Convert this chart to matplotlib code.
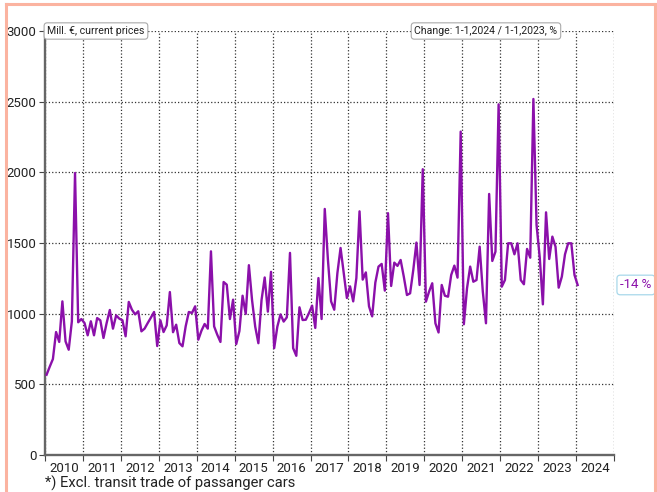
import matplotlib
matplotlib.use('Agg')
import matplotlib.pyplot as plt
import numpy as np
from matplotlib.lines import Line2D

plt.rcParams['font.family'] = ['Roboto', 'DejaVu Sans']

# monthly values, Mill. EUR, Jan 2010 .. Jan 2024
y2010 = [568, 625, 679, 870, 800, 1087, 804, 745, 946, 1995, 939, 962]
y2011 = [934, 847, 946, 847, 969, 953, 828, 934, 1026, 894, 988, 965]
y2012 = [953, 840, 1083, 1028, 995, 1017, 875, 894, 934, 972, 1012, 771]
y2013 = [953, 870, 917, 1153, 869, 922, 792, 769, 910, 1012, 1005, 1052]
y2014 = [816, 880, 927, 894, 1441, 910, 851, 800, 1224, 1205, 962, 1099]
y2015 = [785, 877, 1127, 998, 1343, 1096, 908, 791, 1096, 1256, 1014, 1296]
y2016 = [756, 908, 995, 944, 974, 1430, 756, 702, 1045, 955, 957, 1004]
y2017 = [1057, 899, 1252, 962, 1741, 1382, 1087, 1028, 1288, 1465, 1288, 1111]
y2018 = [1193, 1087, 1252, 1724, 1241, 1292, 1052, 981, 1220, 1333, 1352, 1163]
y2019 = [1711, 1196, 1361, 1338, 1380, 1262, 1132, 1144, 1309, 1503, 1203, 2022]
y2020 = [1085, 1156, 1215, 932, 867, 1203, 1127, 1120, 1274, 1340, 1255, 2288]
y2021 = [925, 1179, 1333, 1226, 1238, 1474, 1156, 932, 1847, 1373, 1439, 2481]
y2022 = [1191, 1238, 1498, 1498, 1420, 1498, 1238, 1208, 1458, 1396, 2519, 1627]
y2023 = [1400, 1066, 1717, 1387, 1545, 1474, 1184, 1262, 1420, 1498, 1498, 1274]
y2024 = [1203]

years = list(range(2010, 2025))
change_label = "-14 %"

vals = (y2010 + y2011 + y2012 + y2013 + y2014 + y2015 + y2016 + y2017
        + y2018 + y2019 + y2020 + y2021 + y2022 + y2023 + y2024)
x = 2010 + (np.arange(len(vals)) + 0.5) / 12

purple = '#8B10AA'

fig = plt.figure(figsize=(6.57, 4.92), dpi=100)
ax = fig.add_axes([45 / 657, 37 / 492, 569 / 657, 424 / 492])

ax.plot(x, vals, color=purple, lw=1.7, zorder=3)

ax.set_xlim(2010, 2025)
ax.set_ylim(0, 3000)
ax.set_xticks(range(2010, 2026))
ax.set_xticks([y + 0.5 for y in years], minor=True)
ax.set_xticklabels([str(y) for y in years], minor=True)
ax.tick_params(axis='x', which='major', length=4, color='#444', labelbottom=False)
ax.tick_params(axis='x', which='minor', length=0, labelsize=9.5, pad=5, labelcolor='#222')
ax.set_yticks(range(0, 3001, 500))
ax.tick_params(axis='y', length=4, color='#444', labelsize=9.5, pad=2, labelcolor='#222')

ax.grid(which='major', linestyle=':', color='#333', lw=0.9)
for s in ['top', 'right']:
    ax.spines[s].set_visible(False)
for s in ['left', 'bottom']:
    ax.spines[s].set_color('#666')
    ax.spines[s].set_linewidth(1.7)

box = dict(boxstyle='round,pad=0.3', fc='white', ec='#aaa', lw=0.8)
ax.text(0.004, 1.0, 'Mill. €, current prices', transform=ax.transAxes,
        ha='left', va='center', fontsize=7.6, color='#222', bbox=box, zorder=5)
ax.text(0.775, 1.0, 'Change: 1-1,2024 / 1-1,2023, %', transform=ax.transAxes,
        ha='center', va='center', fontsize=7.6, color='#222', bbox=box, zorder=5)

ax.annotate(change_label, xy=(1.0, vals[-1]), xycoords=('axes fraction', 'data'),
            xytext=(4.5, 0), textcoords='offset points', ha='left', va='center',
            fontsize=9.5, color=purple, annotation_clip=False,
            bbox=dict(boxstyle='round,pad=0.25', fc='white', ec='#a8d8ea', lw=0.9))

fig.text(45 / 657, 1 - 483 / 492, '*) Excl. transit trade of passanger cars',
         ha='left', va='center', fontsize=10.6, color='#222')

# salmon frame
border = '#FBB3A0'
fig.add_artist(Line2D([6 / 657, 6 / 657], [0, 1 - 4 / 492], color=border, lw=2.2))
fig.add_artist(Line2D([6 / 657, 655 / 657], [1 - 4 / 492, 1 - 4 / 492], color=border, lw=2.2))
fig.add_artist(Line2D([655 / 657, 655 / 657], [0, 1 - 4 / 492], color=border, lw=2.2))

fig.savefig('out.png', dpi=100)
